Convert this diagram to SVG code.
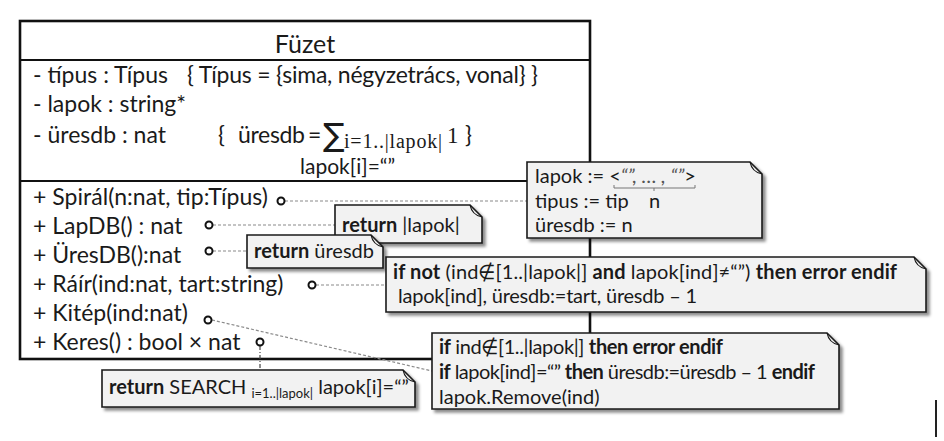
<svg xmlns="http://www.w3.org/2000/svg" width="944" height="441" viewBox="0 0 944 441">
<style>
text{font-family:Lato,"Noto Sans",sans-serif;fill:#1a1a1a}
.cls{font-size:23px}
.nt{font-size:20px}
.b{font-weight:bold}
.math{font-family:"Liberation Serif","DejaVu Serif",serif}
.note{fill:#f2f2f2;stroke:#1a1a1a;stroke-width:1.6}
.fold{fill:none;stroke:#1a1a1a;stroke-width:1.2}
.dash{stroke:#8a8a8a;stroke-width:1.2;stroke-dasharray:3 2;fill:none}
.dot{fill:#fff;stroke:#111;stroke-width:2}
</style>
<defs>
<filter id="sh" x="-5%" y="-20%" width="115%" height="150%">
<feDropShadow dx="3" dy="3" stdDeviation="1.8" flood-color="#000" flood-opacity="0.45"/>
</filter>
</defs>
<rect width="944" height="441" fill="#fff"/>

<g id="class-Fuzet">
<rect x="20" y="21" width="570" height="338" fill="#fff" stroke="#111" stroke-width="2.6"/>
<line x1="20" y1="60" x2="590" y2="60" stroke="#111" stroke-width="2.2"/>
<line x1="20" y1="181" x2="590" y2="181" stroke="#111" stroke-width="2.2"/>
<text x="305" y="53" text-anchor="middle" style="font-size:25px">Füzet</text>
<text class="cls" x="33" y="83">- típus : Típus</text>
<text class="cls" x="187" y="83" textLength="351">{ Típus = {sima, négyzetrács, vonal} }</text>
<text class="cls" x="33" y="112">- lapok : string*</text>
<text class="cls" x="33" y="143">- üresdb : nat</text>
<text class="cls" x="218" y="143">{</text>
<text class="cls" x="238" y="143" textLength="67">üresdb</text>
<text class="cls" x="308" y="143">=</text>
<text x="323" y="146" style="font-family:'DejaVu Sans',sans-serif;font-size:32px">∑</text>
<text class="math" x="344" y="148" style="font-size:20px" textLength="98">i=1..|lapok|</text>
<text class="math" x="447" y="143" style="font-size:23px">1</text>
<text class="cls" x="465" y="143">}</text>
<text class="cls" x="300" y="174" style="font-size:21px">lapok[i]=“”</text>
<text class="cls" x="33" y="205" textLength="235">+ Spirál(n:nat, tip:Típus)</text>
<text class="cls" x="33" y="234">+ LapDB() : nat</text>
<text class="cls" x="33" y="263">+ ÜresDB():nat</text>
<text class="cls" x="33" y="292">+ Ráír(ind:nat, tart:string)</text>
<text class="cls" x="33" y="321">+ Kitép(ind:nat)</text>
<text class="cls" x="33" y="350">+ Keres() : bool × nat</text>
</g>

<g id="connectors">
<line class="dash" x1="285" y1="201" x2="527" y2="201"/>
<line class="dash" x1="213" y1="225" x2="335" y2="225"/>
<line class="dash" x1="213" y1="251" x2="247" y2="251"/>
<line class="dash" x1="316" y1="285" x2="386" y2="285"/>
<line class="dash" x1="212" y1="320" x2="432" y2="371"/>
<line class="dash" x1="260" y1="346" x2="260" y2="370" style="stroke:#444;stroke-dasharray:4 2 1 2"/>
<circle class="dot" cx="281" cy="201" r="3.5"/>
<circle class="dot" cx="209" cy="225" r="3.5"/>
<circle class="dot" cx="209" cy="251" r="3.5"/>
<circle class="dot" cx="312" cy="285" r="3.5"/>
<circle class="dot" cx="208" cy="320" r="3.5"/>
<circle class="dot" cx="260" cy="342" r="3.5"/>
</g>

<g id="note-spiral">
<path class="note" filter="url(#sh)" d="M527,162 H750 L762,174 V238 H527 Z"/>
<path class="fold" d="M750,162 Q752,172 762,174"/>
<text class="nt" x="535" y="183">lapok := &lt;<tspan fill="#555" font-style="italic">“”, … , “”</tspan>&gt;</text>
<path d="M614,185 V188 H695 V185 M654,188 V191" fill="none" stroke="#777" stroke-width="1"/>
<text class="nt" x="535" y="208">tipus := tip</text>
<text class="nt" x="649" y="208">n</text>
<text class="nt" x="535" y="232">üresdb := n</text>
</g>

<g id="note-lapdb">
<path class="note" filter="url(#sh)" d="M335,205 H470 L482,217 V243 H335 Z"/>
<path class="fold" d="M470,205 Q472,215 482,217"/>
<text class="nt" x="342" y="232"><tspan class="b">return</tspan>  |lapok|</text>
</g>

<g id="note-uresdb">
<path class="note" filter="url(#sh)" d="M247,235 H371 L383,247 V268 H247 Z"/>
<path class="fold" d="M371,235 Q373,245 383,247"/>
<text class="nt" x="254" y="258"><tspan class="b">return</tspan> üresdb</text>
</g>

<g id="note-rair">
<path class="note" filter="url(#sh)" d="M386,257 H914 L926,269 V312 H386 Z"/>
<path class="fold" d="M914,257 Q916,267 926,269"/>
<text class="nt" x="393" y="279" textLength="504"><tspan class="b">if not</tspan> (ind∉[1..|lapok|] <tspan class="b">and</tspan>  lapok[ind]≠“”) <tspan class="b">then error endif</tspan></text>
<text class="nt" x="398" y="303" textLength="299">lapok[ind], üresdb:=tart, üresdb – 1</text>
</g>

<g id="note-kitep">
<path class="note" filter="url(#sh)" d="M432,333 H827 L839,345 V409 H432 Z"/>
<path class="fold" d="M827,333 Q829,343 839,345"/>
<text class="nt" x="439" y="354" textLength="284"><tspan class="b">if</tspan> ind∉[1..|lapok|] <tspan class="b">then error endif</tspan></text>
<text class="nt" x="439" y="379" textLength="376"><tspan class="b">if</tspan> lapok[ind]=“” <tspan class="b">then</tspan> üresdb:=üresdb – 1 <tspan class="b">endif</tspan></text>
<text class="nt" x="439" y="404">lapok.Remove(ind)</text>
</g>

<g id="note-keres">
<path class="note" filter="url(#sh)" d="M102,370 H403 L415,382 V407 H102 Z"/>
<path class="fold" d="M403,370 Q405,380 415,382"/>
<text class="nt" x="109" y="394"><tspan class="b">return</tspan> SEARCH <tspan style="font-size:13px" dy="4">i=1..|lapok|</tspan><tspan dy="-4"> lapok[i]=“”</tspan></text>
</g>

<line x1="936" y1="400" x2="936" y2="437" stroke="#222" stroke-width="2"/>
</svg>
